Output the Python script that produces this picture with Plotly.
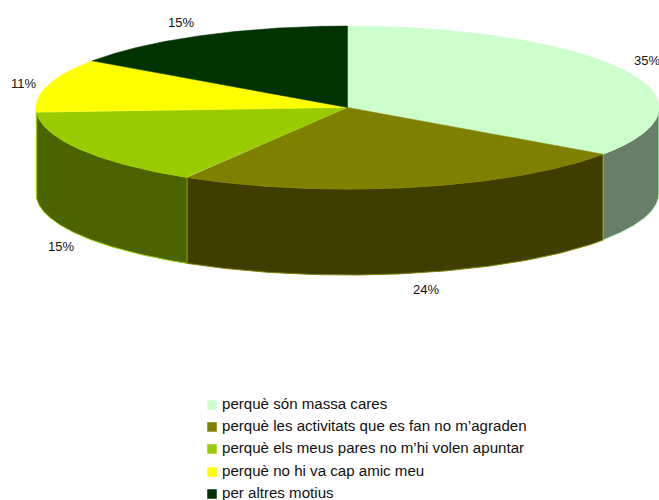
import numpy as np
import plotly.graph_objects as go

categories = [
    "perquè són massa cares",
    "perquè les activitats que es fan no m’agraden",
    "perquè els meus pares no m’hi volen apuntar",
    "perquè no hi va cap amic meu",
    "per altres motius",
]
values = [34.7, 23.9, 15.4, 10.7, 15.3]
labels = ["35%", "24%", "15%", "11%", "15%"]

top_colors = ["#CCFFCC", "#808000", "#99CC00", "#FFFF00", "#003300"]
side_colors = ["#667F66", "#403D00", "#4C6400", "#808000", "#001A00"]

# pie geometry, in pixels of the 659x500 page
CX, CY, A, B, DEPTH = 347.5, 107.5, 311.5, 81.5, 86
# pixel offset of each percent label from its slice's rim
label_dx = [23, 13, -20, -24, -22]
label_dy = [-9, 16, 11, -2, -13]
# legend layout
LEG_X, LEG_TX = 212, 222
LEG_Y = [405, 427, 449, 472, 494]
wall_order = [0, 3, 2, 1]


def rim(deg, drop=0.0):
    t = np.radians(deg)
    return CX + A * np.sin(t), CY - B * np.cos(t) + drop


cum = np.concatenate([[0], np.cumsum(values)]) / np.sum(values) * 360
fig = go.Figure()

for i in wall_order:
    lo, hi = max(cum[i], 90), min(cum[i + 1], 270)
    if hi <= lo:
        continue
    th = np.linspace(lo, hi, 120)
    x0, y0 = rim(th)
    x1, y1 = rim(th[::-1], DEPTH)
    fig.add_trace(go.Scatter(
        x=np.r_[x0, x1, x0[0]], y=np.r_[y0, y1, y0[0]], mode="lines", fill="toself",
        fillcolor=side_colors[i], line=dict(color=top_colors[i], width=1),
        hoverinfo="skip", showlegend=False))

for i, name in enumerate(categories):
    th = np.linspace(cum[i], cum[i + 1], 200)
    x0, y0 = rim(th)
    fig.add_trace(go.Scatter(
        x=np.r_[CX, x0, CX], y=np.r_[CY, y0, CY], mode="lines", fill="toself",
        fillcolor=top_colors[i], line=dict(color=top_colors[i], width=0.5),
        name=name, showlegend=False))

# legend swatches and their texts
fig.add_trace(go.Scatter(
    x=[LEG_X] * 5, y=LEG_Y, mode="markers",
    marker=dict(symbol="square", size=9.5, color=top_colors),
    hoverinfo="skip", showlegend=False))
fig.add_trace(go.Scatter(
    x=[LEG_TX] * 5, y=LEG_Y, mode="text", text=categories, textposition="middle right",
    textfont=dict(family="Liberation Sans", size=15.1, color="#111111"),
    hoverinfo="skip", showlegend=False))

for i, lab in enumerate(labels):
    mid = (cum[i] + cum[i + 1]) / 2
    drop = DEPTH if 90 < mid < 270 else 0
    x, y = rim(mid, drop)
    fig.add_annotation(x=x + label_dx[i], y=y + label_dy[i], text=lab, showarrow=False,
                       font=dict(family="Liberation Sans", size=13, color="#111111"))

fig.update_layout(
    width=659, height=500, margin=dict(l=0, r=0, t=0, b=0),
    paper_bgcolor="white", plot_bgcolor="white", showlegend=False,
    xaxis=dict(range=[0, 659], visible=False, fixedrange=True),
    yaxis=dict(range=[500, 0], visible=False, fixedrange=True),
)
fig.write_html("out.html", config={"displayModeBar": False},
               post_script="document.body.style.margin='0';")
